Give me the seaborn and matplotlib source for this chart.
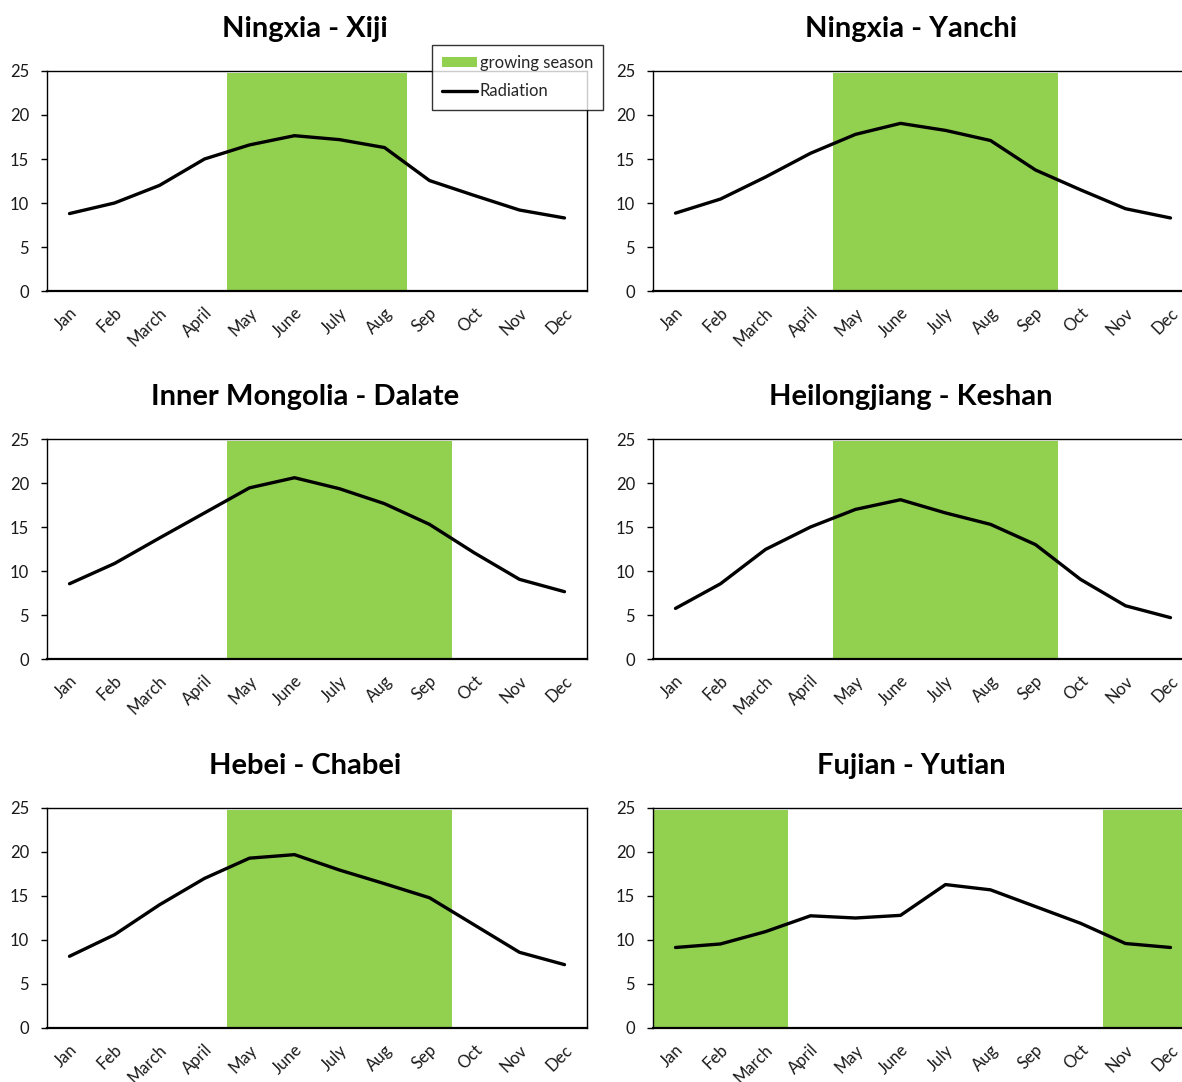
import numpy as np
import pandas as pd
import matplotlib
matplotlib.use("Agg")
import matplotlib.pyplot as plt
import matplotlib.transforms as mtransforms
from matplotlib.patches import Patch
from matplotlib.lines import Line2D
import seaborn as sns

months = ["Jan", "Feb", "March", "April", "May", "June", "July", "Aug", "Sep", "Oct", "Nov", "Dec"]

titles = ["Ningxia - Xiji", "Ningxia - Yanchi", "Inner Mongolia - Dalate",
          "Heilongjiang - Keshan", "Hebei - Chabei", "Fujian - Yutian"]

rad_xiji = [8.8, 10.0, 12.0, 15.0, 16.6, 17.65, 17.2, 16.3, 12.55, 10.85, 9.2, 8.3]
rad_yanchi = [8.85, 10.45, 12.95, 15.65, 17.8, 19.05, 18.25, 17.1, 13.75, 11.5, 9.35, 8.3]
rad_dalate = [8.55, 10.85, 13.75, 16.6, 19.45, 20.6, 19.35, 17.65, 15.3, 12.05, 9.05, 7.65]
rad_keshan = [5.75, 8.55, 12.45, 15.0, 17.0, 18.1, 16.6, 15.3, 13.0, 9.05, 6.05, 4.7]
rad_chabei = [8.15, 10.6, 14.0, 17.0, 19.3, 19.7, 17.95, 16.4, 14.8, 11.7, 8.6, 7.2]
rad_yutian = [9.15, 9.55, 10.95, 12.75, 12.5, 12.8, 16.3, 15.7, 13.8, 11.9, 9.6, 9.15]

# growing-season flags (1 = in season)
season_xiji = [0, 0, 0, 0, 1, 1, 1, 1, 0, 0, 0, 0]
season_yanchi = [0, 0, 0, 0, 1, 1, 1, 1, 1, 0, 0, 0]
season_dalate = [0, 0, 0, 0, 1, 1, 1, 1, 1, 0, 0, 0]
season_keshan = [0, 0, 0, 0, 1, 1, 1, 1, 1, 0, 0, 0]
season_chabei = [0, 0, 0, 0, 1, 1, 1, 1, 1, 0, 0, 0]
season_yutian = [1, 1, 1, 0, 0, 0, 0, 0, 0, 0, 1, 1]
season_height = 24.8

radiation = [rad_xiji, rad_yanchi, rad_dalate, rad_keshan, rad_chabei, rad_yutian]
seasons = [season_xiji, season_yanchi, season_dalate, season_keshan, season_chabei, season_yutian]

sns.set_style("white")
plt.rcParams["font.family"] = ["Lato", "DejaVu Sans"]

GREEN = "#92D050"

W, H = 1182, 1082
fig = plt.figure(figsize=(W / 100, H / 100), dpi=100)

lefts = [47, 653]
tops = [71, 439, 808]
ax_w, ax_h = 540, 220

axes = []
for i, (title, rad, season) in enumerate(zip(titles, radiation, seasons)):
    r, c = divmod(i, 2)
    l = lefts[c]
    t = tops[r]
    ax = fig.add_axes([l / W, 1 - (t + ax_h) / H, ax_w / W, ax_h / H])
    axes.append(ax)
    df = pd.DataFrame({"month": months,
                       "season": [season_height * s for s in season],
                       "rad": rad})
    sns.barplot(data=df, x="month", y="season", color=GREEN, width=1.0,
                saturation=1, edgecolor="none", linewidth=0, ax=ax)
    sns.pointplot(data=df, x="month", y="rad", color="black", markers="",
                  linestyles="-", linewidth=2.4, ax=ax)
    ax.set_xlim(-0.5, len(months) - 0.5)
    ax.set_ylim(0, 25)
    ax.set_yticks([0, 5, 10, 15, 20, 25])
    ax.set_xlabel("")
    ax.set_ylabel("")
    for s in ax.spines.values():
        s.set_visible(True)
        s.set_color("black")
        s.set_linewidth(1.0)
    ax.spines["bottom"].set_linewidth(1.6)
    ax.tick_params(axis="y", which="both", left=True, length=4, width=1,
                   color="black", pad=9, labelsize=12, labelcolor="#1a1a1a")
    ax.tick_params(axis="x", which="both", bottom=False, length=0, pad=14,
                   labelsize=12, labelcolor="#1a1a1a")
    offset = mtransforms.ScaledTranslation(5 / 100, 0, fig.dpi_scale_trans)
    for lab in ax.get_xticklabels():
        lab.set_rotation(45)
        lab.set_ha("right")
        lab.set_va("center")
        lab.set_rotation_mode("anchor")
        lab.set_transform(lab.get_transform() + offset)
    # title centered over chart area (including labels)
    cx = (l - 12 + ax_w / 2) / W
    fig.text(cx, 1 - (t - 42) / H, title, ha="center", va="center",
             fontsize=21, fontweight="bold", color="black")

handles = [Patch(facecolor=GREEN, edgecolor="none", label="growing season"),
           Line2D([0], [0], color="black", lw=2.4, label="Radiation")]
leg = fig.legend(handles=handles, loc="upper left",
                 bbox_to_anchor=(432 / W, 1 - 45 / H), bbox_transform=fig.transFigure,
                 frameon=True, fancybox=False, fontsize=12, handlelength=2.1,
                 handleheight=0.6, handletextpad=0.15, borderpad=0.6,
                 labelspacing=0.75, borderaxespad=0)
leg.get_frame().set_edgecolor("black")
leg.get_frame().set_linewidth(1.0)

fig.savefig("out.png", dpi=100, facecolor="white")
